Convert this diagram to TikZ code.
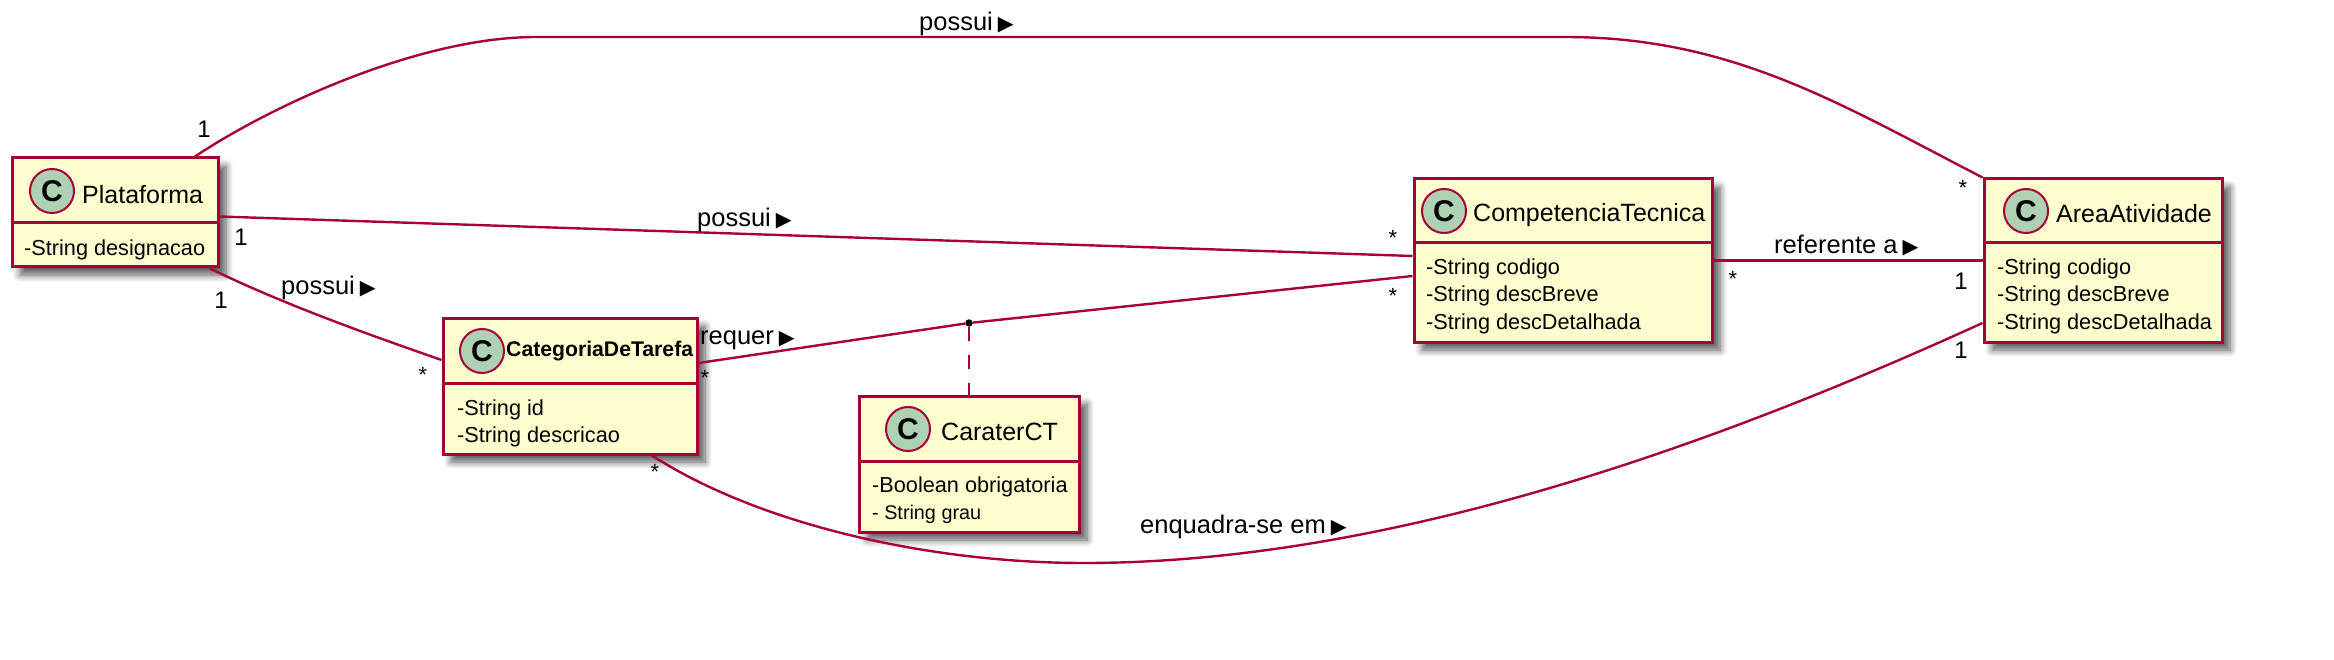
\documentclass[tikz,border=0pt]{standalone}
\usepackage{fontspec}
\setmainfont{Liberation Sans}
\newfontfamily\symbolfont{DejaVu Sans}
\usetikzlibrary{shadows.blur}
\definecolor{umlline}{HTML}{A80036}
\definecolor{umlfill}{HTML}{FEFECE}
\definecolor{umlicon}{HTML}{ADD1B2}
\newcommand{\dirmark}{\kern5pt{\symbolfont\fontsize{20.5}{20.5}\selectfont ▶}}
\tikzset{
  classbox/.style={rectangle, draw=umlline, fill=umlfill, line width=3pt, inner sep=0pt, blur shadow={shadow xshift=8pt, shadow yshift=-8pt, shadow blur steps=8, shadow blur radius=7pt, shadow opacity=65}},
  classicon/.style={circle, draw=umlline, fill=umlicon, line width=2pt, minimum size=44pt, inner sep=0pt, font=\bfseries\fontsize{30}{30}\selectfont},
  classname/.style={anchor=west, inner sep=0pt, font=\fontsize{25}{27}\selectfont},
  attrs/.style={anchor=west, inner sep=0pt, align=left, font=\fontsize{21.7}{27.5}\selectfont},
  sepline/.style={umlline, line width=3pt},
  assoc/.style={umlline, line width=2.4pt},
  linklabel/.style={anchor=west, inner sep=0pt, font=\fontsize{25.5}{26}\selectfont},
  mult/.style={inner sep=0pt, font=\fontsize{24}{26}\selectfont},
  star/.style={inner sep=0pt, font=\fontsize{22}{26}\selectfont}
}

\begin{document}
\begin{tikzpicture}[x=1pt, y=-1pt]
\useasboundingbox (0,0) rectangle (2334,660);

% Classes
\node (plat) [classbox, minimum width=206pt, minimum height=109pt] at (115,212.5) {};
\node (cat) [classbox, minimum width=254pt, minimum height=136pt] at (570,386) {};
\node (carater) [classbox, minimum width=220pt, minimum height=136pt] at (969,464) {};
\node (comp) [classbox, minimum width=298pt, minimum height=163pt] at (1563,260.5) {};
\node (area) [classbox, minimum width=238pt, minimum height=163pt] at (2103,260.5) {};

% Separators
\draw [sepline] (plat.west |- 0,223) -- (plat.east |- 0,223);
\draw [sepline] (cat.west |- 0,383) -- (cat.east |- 0,383);
\draw [sepline] (carater.west |- 0,461) -- (carater.east |- 0,461);
\draw [sepline] (comp.west |- 0,243) -- (comp.east |- 0,243);
\draw [sepline] (area.west |- 0,243) -- (area.east |- 0,243);

% Icons
\node (platC) [classicon] at (52,191) {C};
\node (catC) [classicon] at (482,351) {C};
\node (caraterC) [classicon] at (908,429) {C};
\node (compC) [classicon] at (1444,211) {C};
\node (areaC) [classicon] at (2026,211) {C};

% Names
\node (platName) [classname] at (82,195) {Plataforma};
\node (catName) [classname, font=\bfseries\fontsize{21.2}{22}\selectfont] at (506,351) {CategoriaDeTarefa};
\node (caraterName) [classname] at (941,432) {CaraterCT};
\node (compName) [classname] at (1473,215) {CompetenciaTecnica};
\node (areaName) [classname] at (2056,214) {AreaAtividade};

% Attributes
\node (platAttr) [attrs] at (24,250) {-String designacao};
\node (catAttr) [attrs] at (457,423.5) {-String id\\-String descricao};
\node (caraterAttr) [attrs] at (872,500) {-Boolean obrigatoria\\{\fontsize{19.8}{27.5}\selectfont - String grau}};
\node (compAttr) [attrs] at (1426,296) {-String codigo\\-String descBreve\\-String descDetalhada};
\node (areaAttr) [attrs] at (1997,296) {-String codigo\\-String descBreve\\-String descDetalhada};

% Association point
\node (assocDot) [circle, fill=black, minimum size=7.5pt, inner sep=0pt] at (969,323) {};

% Connectors
\draw [assoc] ([xshift=80pt]plat.north) .. controls (274,104) and (421,37) .. (536,37) -- (1565,37) .. controls (1732,37) and (1840,104) .. (area.north west);
\draw [assoc] ([yshift=-4pt]plat.east) -- ([yshift=4.5pt]comp.west);
\draw [assoc] ([xshift=95pt]plat.south) .. controls (285,305) and (370,335) .. ([yshift=26pt]cat.west);
\draw [assoc] ([yshift=23pt]cat.east) -- (assocDot) -- ([yshift=-15.5pt]comp.west);
\draw [assoc, dash pattern=on 14pt off 14pt] (assocDot) -- (carater.north);
\draw [assoc] (comp.east) -- (area.west);
\draw [assoc] ([xshift=82pt]cat.south) .. controls (760,525) and (930,563) .. (1084,563) .. controls (1392,563) and (1719,443) .. ([yshift=-62.5pt]area.west);

% Link labels
\node (lblTop) [linklabel] at (919,24) {possui\dirmark};
\node (lblMid) [linklabel] at (697,220) {possui\dirmark};
\node (lblLow) [linklabel] at (281,288) {possui\dirmark};
\node (lblReq) [linklabel] at (700,340) {requer\dirmark};
\node (lblEnq) [linklabel] at (1140,527) {enquadra-se em\dirmark};
\node (lblRef) [linklabel] at (1774,246) {referente a\dirmark};

% Multiplicities
\node (m1) [mult] at (204,129) {1};
\node (m2) [mult] at (241,237) {1};
\node (m3) [mult] at (221,300) {1};
\node (m4) [star] at (423,375) {*};
\node (m5) [star] at (705,378) {*};
\node (m6) [star] at (655,472) {*};
\node (m7) [star] at (1393,238) {*};
\node (m8) [star] at (1393,296) {*};
\node (m9) [star] at (1733,279) {*};
\node (m10) [mult] at (1961,281) {1};
\node (m11) [mult] at (1961,350) {1};
\node (m12) [star] at (1963,188) {*};

\end{tikzpicture}
\end{document}
